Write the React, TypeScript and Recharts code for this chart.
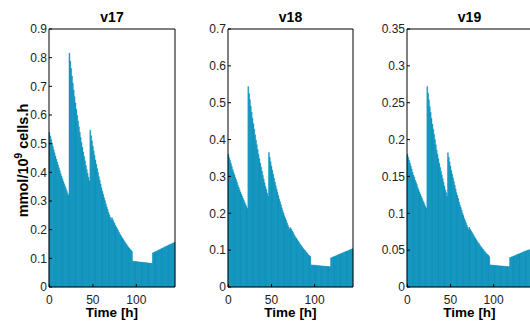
import React from 'react';
import { BarChart, Bar, XAxis, YAxis, Label } from 'recharts';

const hours = [
  0, 1, 2, 3, 4, 5, 6, 7, 8, 9, 10, 11, 12, 13, 14, 15, 16, 17, 18, 19,
  20, 21, 22, 23, 24, 25, 26, 27, 28, 29, 30, 31, 32, 33, 34, 35, 36, 37, 38, 39,
  40, 41, 42, 43, 44, 45, 46, 47, 48, 49, 50, 51, 52, 53, 54, 55, 56, 57, 58, 59,
  60, 61, 62, 63, 64, 65, 66, 67, 68, 69, 70, 71, 72, 73, 74, 75, 76, 77, 78, 79,
  80, 81, 82, 83, 84, 85, 86, 87, 88, 89, 90, 91, 92, 93, 94, 95, 96, 97, 98, 99,
  100, 101, 102, 103, 104, 105, 106, 107, 108, 109, 110, 111, 112, 113, 114, 115, 116, 117, 118, 119,
  120, 121, 122, 123, 124, 125, 126, 127, 128, 129, 130, 131, 132, 133, 134, 135, 136, 137, 138, 139,
  140, 141, 142, 143, 144,
];

const v17 = [
  0.540, 0.527, 0.515, 0.503, 0.491, 0.479, 0.468, 0.457, 0.446, 0.436,
  0.426, 0.416, 0.406, 0.396, 0.387, 0.378, 0.369, 0.360, 0.352, 0.344,
  0.336, 0.328, 0.320,
  0.816, 0.788, 0.762, 0.736, 0.711, 0.687, 0.664,
  0.642, 0.620, 0.599, 0.579, 0.559, 0.540, 0.522, 0.504, 0.487, 0.471,
  0.455, 0.440, 0.425, 0.410, 0.397, 0.383, 0.370,
  0.547, 0.528, 0.510,
  0.492, 0.475, 0.459, 0.443, 0.428, 0.413, 0.399, 0.385, 0.372, 0.359,
  0.346, 0.334, 0.323, 0.311, 0.301, 0.290, 0.280, 0.271, 0.261, 0.252,
  0.243, 0.235, 0.242, 0.235, 0.228, 0.222, 0.215, 0.209, 0.203, 0.198,
  0.192, 0.186, 0.181, 0.176, 0.171, 0.166, 0.161, 0.156, 0.152, 0.148,
  0.143, 0.139, 0.135, 0.131, 0.128, 0.124,
  0.090, 0.0896, 0.0893, 0.0889,
  0.0886, 0.0882, 0.0879, 0.0875, 0.0872, 0.0868, 0.0865, 0.0861, 0.0858, 0.0855,
  0.0851, 0.0848, 0.0845, 0.0841, 0.0838, 0.0835, 0.0832, 0.0828, 0.0825,
  0.119,
  0.120, 0.122, 0.123, 0.125, 0.126, 0.128, 0.129, 0.131, 0.132, 0.134,
  0.135, 0.137, 0.138, 0.140, 0.141, 0.143, 0.144, 0.146, 0.147, 0.149,
  0.150, 0.151, 0.153, 0.154, 0.156,
];

const v18 = [
  0.360, 0.351, 0.343, 0.335, 0.327, 0.319, 0.312, 0.305, 0.297, 0.291,
  0.284, 0.277, 0.271, 0.264, 0.258, 0.252, 0.246, 0.240, 0.235, 0.229,
  0.224, 0.219, 0.213,
  0.544, 0.525, 0.508, 0.491, 0.474, 0.458, 0.443,
  0.428, 0.413, 0.399, 0.386, 0.373, 0.360, 0.348, 0.336, 0.325, 0.314,
  0.303, 0.293, 0.283, 0.273, 0.265, 0.255, 0.247,
  0.365, 0.352, 0.340,
  0.328, 0.317, 0.306, 0.295, 0.285, 0.275, 0.266, 0.257, 0.248, 0.239,
  0.231, 0.223, 0.215, 0.207, 0.201, 0.193, 0.187, 0.181, 0.174, 0.168,
  0.162, 0.157, 0.161, 0.157, 0.152, 0.148, 0.143, 0.139, 0.135, 0.132,
  0.128, 0.124, 0.121, 0.117, 0.114, 0.111, 0.107, 0.104, 0.101, 0.099,
  0.095, 0.093, 0.090, 0.087, 0.085, 0.083,
  0.060, 0.0597, 0.0595, 0.0593,
  0.0591, 0.0588, 0.0586, 0.0583, 0.0581, 0.0579, 0.0577, 0.0574, 0.0572, 0.0570,
  0.0567, 0.0565, 0.0563, 0.0561, 0.0559, 0.0557, 0.0555, 0.0552, 0.0550,
  0.079,
  0.080, 0.081, 0.082, 0.083, 0.084, 0.085, 0.086, 0.087, 0.088, 0.089,
  0.090, 0.091, 0.092, 0.093, 0.094, 0.095, 0.096, 0.097, 0.098, 0.099,
  0.100, 0.101, 0.102, 0.103, 0.104,
];

const v19 = [
  0.180, 0.176, 0.172, 0.168, 0.164, 0.160, 0.156, 0.152, 0.149, 0.145,
  0.142, 0.139, 0.135, 0.132, 0.129, 0.126, 0.123, 0.120, 0.117, 0.115,
  0.112, 0.109, 0.107,
  0.272, 0.263, 0.254, 0.245, 0.237, 0.229, 0.221,
  0.214, 0.207, 0.200, 0.193, 0.186, 0.180, 0.174, 0.168, 0.162, 0.157,
  0.152, 0.147, 0.142, 0.137, 0.132, 0.128, 0.123,
  0.182, 0.176, 0.170,
  0.164, 0.158, 0.153, 0.148, 0.143, 0.138, 0.133, 0.128, 0.124, 0.120,
  0.115, 0.111, 0.108, 0.104, 0.100, 0.097, 0.093, 0.090, 0.087, 0.084,
  0.081, 0.078, 0.081, 0.078, 0.076, 0.074, 0.072, 0.070, 0.068, 0.066,
  0.064, 0.062, 0.060, 0.059, 0.057, 0.055, 0.054, 0.052, 0.051, 0.049,
  0.048, 0.046, 0.045, 0.044, 0.043, 0.041,
  0.030, 0.0299, 0.0298, 0.0296,
  0.0295, 0.0294, 0.0293, 0.0292, 0.0291, 0.0289, 0.0288, 0.0287, 0.0286, 0.0285,
  0.0284, 0.0283, 0.0282, 0.0280, 0.0279, 0.0278, 0.0277, 0.0276, 0.0275,
  0.040,
  0.040, 0.041, 0.041, 0.042, 0.042, 0.043, 0.043, 0.044, 0.044, 0.045,
  0.045, 0.046, 0.046, 0.047, 0.047, 0.048, 0.048, 0.049, 0.049, 0.050,
  0.050, 0.050, 0.051, 0.051, 0.052,
];

const xTicks = [0, 50, 100];
const yTicks17 = [0, 0.1, 0.2, 0.3, 0.4, 0.5, 0.6, 0.7, 0.8, 0.9];
const yTicks18 = [0, 0.1, 0.2, 0.3, 0.4, 0.5, 0.6, 0.7];
const yTicks19 = [0, 0.05, 0.1, 0.15, 0.2, 0.25, 0.3, 0.35];
const titles = ['v17', 'v18', 'v19'];
const xLabel = 'Time [h]';

const rows = hours.map((t, i) => ({ t, v17: v17[i], v18: v18[i], v19: v19[i] }));

const FONT = '"Liberation Sans", Arial, Helvetica, sans-serif';
const BAR = '#0790bb';
const AX = '#000';
const TXT = '#222';
const Y_W = 45;
const TOP = 29;
const H = 324;
const X_H = 37;

type PanelProps = { left: number; plotWidth: number; dataKey: string; yTicks: number[]; yMax: number };

function Panel({ left, plotWidth, dataKey, yTicks, yMax }: PanelProps) {
  const w = Y_W + plotWidth + 5;
  return (
    <div style={{ position: 'absolute', left, top: 0, width: w, height: H }}>
      <BarChart
        width={w}
        height={H}
        data={rows}
        margin={{ top: TOP, right: 5, bottom: 0, left: 0 }}
        barCategoryGap={0}
        barGap={0}
      >
        <XAxis
          xAxisId="b"
          dataKey="t"
          type="category"
          ticks={xTicks}
          interval={0}
          height={X_H}
          tickSize={-3}
          tickMargin={11}
          axisLine={{ stroke: AX }}
          tickLine={{ stroke: AX }}
          tick={{ fill: TXT, fontSize: 12, fontFamily: FONT }}
        >
          <Label
            value={xLabel}
            position="insideBottom"
            offset={7}
            style={{ fontSize: 13.5, fontWeight: 'bold', fontFamily: FONT, fill: '#000' }}
          />
        </XAxis>
        <XAxis
          xAxisId="t"
          dataKey="t"
          type="category"
          orientation="top"
          mirror
          ticks={xTicks}
          interval={0}
          tick={false}
          tickSize={3}
          axisLine={{ stroke: AX }}
          tickLine={{ stroke: AX }}
        />
        <YAxis
          yAxisId="l"
          type="number"
          domain={[0, yMax]}
          ticks={yTicks}
          interval={0}
          width={Y_W}
          tickSize={-3}
          tickMargin={5}
          axisLine={{ stroke: AX }}
          tickLine={{ stroke: AX }}
          tick={{ fill: TXT, fontSize: 12, fontFamily: FONT }}
        />
        <YAxis
          yAxisId="r"
          type="number"
          orientation="right"
          mirror
          domain={[0, yMax]}
          ticks={yTicks}
          interval={0}
          tick={false}
          tickSize={3}
          axisLine={{ stroke: AX }}
          tickLine={{ stroke: AX }}
        />
        <Bar
          xAxisId="b"
          yAxisId="l"
          dataKey={dataKey}
          fill={BAR}
          stroke={BAR}
          strokeWidth={0.4}
          isAnimationActive={false}
        />
      </BarChart>
    </div>
  );
}

const panels = [
  { left: 49 - Y_W, plotWidth: 126, dataKey: 'v17', yTicks: yTicks17, yMax: 0.9 },
  { left: 228 - Y_W, plotWidth: 125, dataKey: 'v18', yTicks: yTicks18, yMax: 0.7 },
  { left: 407 - Y_W, plotWidth: 125, dataKey: 'v19', yTicks: yTicks19, yMax: 0.35 },
];

export default function App() {
  return (
    <div
      style={{
        position: 'absolute',
        left: 0,
        top: 0,
        width: 530,
        height: 324,
        overflow: 'hidden',
        background: '#fff',
        fontFamily: FONT,
      }}
    >
      {panels.map((p) => (
        <Panel key={p.dataKey} {...p} />
      ))}
      <svg width={530} height={324} style={{ position: 'absolute', left: 0, top: 0, pointerEvents: 'none' }}>
        {panels.map((p, i) => (
          <text
            key={titles[i]}
            x={p.left + Y_W + p.plotWidth / 2}
            y={22}
            textAnchor="middle"
            fontFamily={FONT}
            fontWeight="bold"
            fontSize={14}
            fill="#000"
          >
            {titles[i]}
          </text>
        ))}
        <text
          transform="translate(28,160.5) rotate(-90)"
          textAnchor="middle"
          fontFamily={FONT}
          fontWeight="bold"
          fontSize={14.5}
          fill="#000"
        >
          mmol/10
          <tspan fontSize={10} dy={-6}>9</tspan>
          <tspan dy={6}> cells.h</tspan>
        </text>
      </svg>
    </div>
  );
}
